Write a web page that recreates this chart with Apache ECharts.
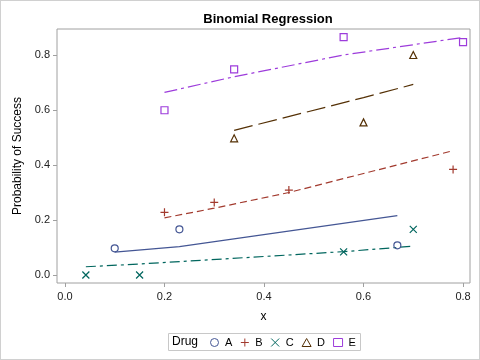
<!DOCTYPE html>
<html>
<head>
<meta charset="utf-8">
<script src="https://cdn.jsdelivr.net/npm/echarts@6/dist/echarts.min.js"></script>
<style>
html,body{margin:0;padding:0;background:#fff;}
#c{width:478px;height:358px;border:1px solid #d0d0d0;}
</style>
</head>
<body>
<div id="c"></div>
<script>
// Observed data (x, proportion of success)
var obsA = [[0.10, 0.097], [0.23, 0.166], [0.668, 0.108]];
var obsB = [[0.20, 0.228], [0.30, 0.264], [0.45, 0.309], [0.78, 0.384]];
var obsC = [[0.042, 0.0], [0.15, 0.0], [0.56, 0.084], [0.70, 0.166]];
var obsD = [[0.34, 0.497], [0.60, 0.555], [0.70, 0.80]];
var obsE = [[0.20, 0.599], [0.34, 0.748], [0.56, 0.865], [0.80, 0.847]];
// Fitted predicted probabilities
var fitA = [[0.10, 0.083], [0.23, 0.103], [0.668, 0.216]];
var fitB = [[0.20, 0.208], [0.30, 0.243], [0.45, 0.300], [0.78, 0.452]];
var fitC = [[0.042, 0.030], [0.15, 0.040], [0.56, 0.085], [0.70, 0.105]];
var fitD = [[0.34, 0.526], [0.60, 0.645], [0.70, 0.693]];
var fitE = [[0.20, 0.664], [0.34, 0.721], [0.56, 0.800], [0.80, 0.864]];
var drugs = ['A', 'B', 'C', 'D', 'E'];
var xTicks = [0.0, 0.2, 0.4, 0.6, 0.8];
var yTicks = [0.0, 0.2, 0.4, 0.6, 0.8];

var colors = ['#445694', '#A23A2E', '#01665E', '#543005', '#9D3CDB'];
var symbols = ['circle', 'path://M5,0L5,10M0,5L10,5', 'path://M0,0L10,10M10,0L0,10', 'triangle', 'rect'];
var symSizes = [7, 8, 7, 7, 7];
var dashes = ['solid', [7, 4], [10, 4, 3, 4], [19, 6], [13, 4, 3, 4]];
var obs = [obsA, obsB, obsC, obsD, obsE];
var fits = [fitA, fitB, fitC, fitD, fitE];

var font = 'Liberation Sans, Arial, sans-serif';
var series = [];
for (var i = 0; i < 5; i++) {
  series.push({
    name: 'fit' + drugs[i], type: 'line', data: fits[i], showSymbol: false, symbol: 'none',
    lineStyle: {color: colors[i], width: 1.2, type: dashes[i]}, silent: true, z: 2
  });
}
for (var j = 0; j < 5; j++) {
  series.push({
    name: drugs[j], type: 'scatter', data: obs[j], symbol: symbols[j], symbolSize: symSizes[j],
    itemStyle: {color: 'rgba(0,0,0,0)', borderColor: colors[j], borderWidth: 1.2, opacity: 1}, z: 3
  });
}

var chart = echarts.init(document.getElementById('c'), null, {renderer: 'canvas'});
chart.setOption({
  animation: false,
  title: {text: 'Binomial Regression', left: 262, top: 7, textAlign: 'center',
    textStyle: {fontFamily: font, fontSize: 13, fontWeight: 'bold', color: '#000'}},
  grid: {left: 56, top: 28, right: 9, bottom: 76, show: true, borderColor: '#a0a0a0', borderWidth: 1},
  xAxis: {type: 'value', min: -0.016, max: 0.814,
    name: 'x', nameLocation: 'middle', nameGap: 28,
    nameTextStyle: {fontFamily: font, fontSize: 12, color: '#000'},
    axisLine: {show: false, onZero: false}, splitLine: {show: false},
    axisTick: {show: true, length: 4, lineStyle: {color: '#a0a0a0'}, customValues: xTicks},
    axisLabel: {fontFamily: font, fontSize: 11, color: '#222', margin: 8, customValues: xTicks,
      formatter: function (v) { return v.toFixed(1); }}
  },
  yAxis: {type: 'value', min: -0.029, max: 0.8945,
    name: 'Probability of Success', nameLocation: 'middle', nameGap: 33,
    nameTextStyle: {fontFamily: font, fontSize: 12, color: '#000'},
    axisLine: {show: false, onZero: false}, splitLine: {show: false},
    axisTick: {show: true, length: 4, lineStyle: {color: '#a0a0a0'}, customValues: yTicks},
    axisLabel: {fontFamily: font, fontSize: 11, color: '#222', margin: 7, customValues: yTicks,
      formatter: function (v) { return v.toFixed(1); }}
  },
  legend: {data: drugs, left: 209, top: 336, padding: 0, itemWidth: 9, itemHeight: 8, itemGap: 8,
    selectedMode: false,
    itemStyle: {borderWidth: 1},
    textStyle: {fontFamily: font, fontSize: 11, color: '#000', padding: [0, 0, 0, 1]}},
  graphic: [
    {type: 'rect', shape: {x: 167.5, y: 332.5, width: 192, height: 17}, style: {fill: 'none', stroke: '#c8c8c8', lineWidth: 1}},
    {type: 'text', x: 171, y: 341, style: {text: 'Drug', fontFamily: font, fontSize: 12, fill: '#000', verticalAlign: 'middle'}}
  ],
  series: series
});
</script>
</body>
</html>
